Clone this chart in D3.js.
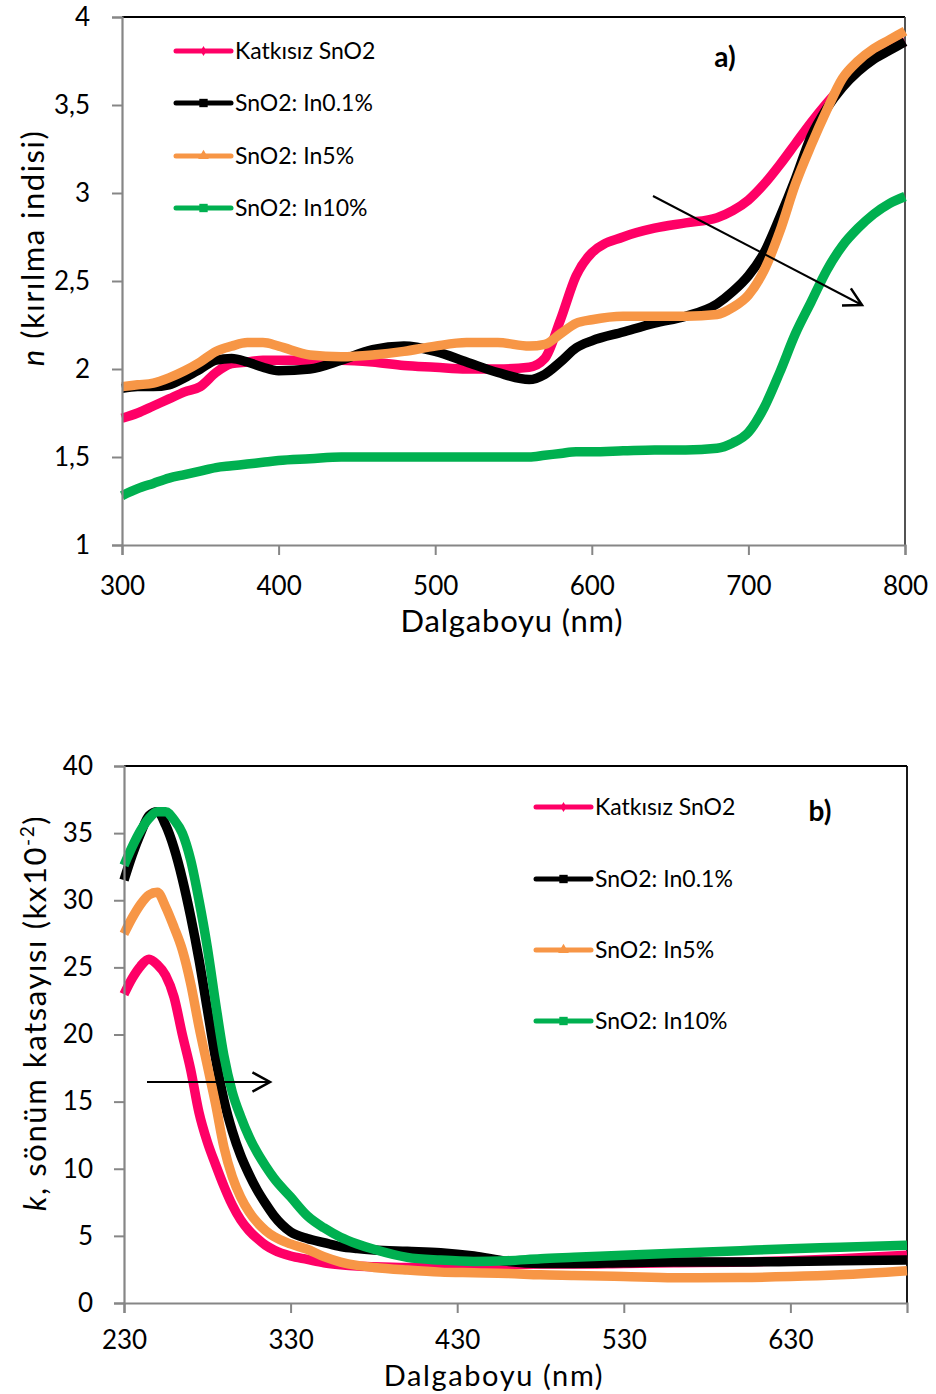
<!DOCTYPE html>
<html><head><meta charset="utf-8">
<script src="https://cdn.jsdelivr.net/npm/d3@7"></script>
<style>
html,body{margin:0;padding:0;background:#fff;}
svg text{font-family:Lato,"Open Sans",sans-serif;fill:#000;}
</style></head>
<body>
<svg id="c" width="936" height="1394"></svg>
<script>
// ---------- data: panel a (refractive index n) ----------
const seriesNames = ["Katkısız SnO2","SnO2: In0.1%","SnO2: In5%","SnO2: In10%"];
const seriesColors = ["#FF0066","#000000","#F79646","#00B050"];
const seriesMarkers = ["diamond","square","triangle","square"];

const wlA = [300,310,320,330,340,350,360,370,380,390,400,420,440,460,480,500,520,540,560,570,580,590,600,620,640,660,680,690,700,710,720,730,740,750,760,770,780,790,800];
const nPure  = [1.72,1.75,1.79,1.83,1.87,1.90,1.98,2.03,2.04,2.05,2.05,2.05,2.05,2.04,2.02,2.01,2.00,2.00,2.01,2.06,2.28,2.53,2.66,2.75,2.80,2.83,2.86,2.90,2.96,3.05,3.16,3.28,3.40,3.51,3.61,3.70,3.77,3.82,3.86];
const nIn01  = [1.89,1.90,1.90,1.91,1.95,2.00,2.05,2.06,2.04,2.01,1.99,2.00,2.05,2.11,2.13,2.10,2.04,1.98,1.94,1.97,2.04,2.12,2.16,2.21,2.26,2.30,2.37,2.44,2.53,2.66,2.86,3.08,3.32,3.48,3.60,3.69,3.76,3.81,3.86];
const nIn5   = [1.90,1.91,1.92,1.95,1.99,2.04,2.10,2.13,2.15,2.15,2.13,2.08,2.07,2.08,2.10,2.13,2.15,2.15,2.13,2.14,2.20,2.26,2.28,2.30,2.30,2.30,2.31,2.35,2.42,2.56,2.78,3.05,3.27,3.47,3.65,3.75,3.82,3.87,3.92];
const nIn10  = [1.28,1.32,1.35,1.38,1.40,1.42,1.44,1.45,1.46,1.47,1.48,1.49,1.50,1.50,1.50,1.50,1.50,1.50,1.50,1.51,1.52,1.53,1.53,1.535,1.54,1.54,1.55,1.58,1.64,1.78,1.98,2.20,2.38,2.56,2.70,2.80,2.88,2.94,2.98];
const yTicksA = [1,1.5,2,2.5,3,3.5,4];
const yTickLabelsA = ["1","1,5","2","2,5","3","3,5","4"];
const xTicksA = [300,400,500,600,700,800];

// ---------- data: panel b (extinction coefficient k x10^-2) ----------
const wlB = [230,235,240,245,250,255,260,265,270,275,280,285,290,295,300,305,310,315,320,330,340,350,360,370,380,400,420,440,460,480,500,530,560,600,630,660,700];
const kPure = [23.0,24.2,25.1,25.6,25.2,24.4,22.8,20.0,17.4,14.2,12.0,10.3,8.7,7.3,6.2,5.4,4.8,4.3,3.95,3.5,3.25,3.0,2.85,2.75,2.7,2.65,2.7,2.8,2.85,2.9,2.9,2.95,3.0,3.05,3.15,3.3,3.55];
const kIn01 = [31.5,33.4,35.0,36.3,36.6,35.6,33.9,31.6,28.8,25.6,21.9,18.2,15.1,12.8,11.0,9.6,8.4,7.4,6.5,5.3,4.8,4.5,4.2,4.05,3.95,3.85,3.75,3.5,3.1,2.95,2.95,3.0,3.05,3.05,3.1,3.15,3.2];
const kIn5  = [27.5,28.7,29.7,30.4,30.6,29.5,28.0,26.3,23.8,20.6,17.7,14.8,11.6,9.4,7.9,6.8,6.0,5.4,4.95,4.4,4.0,3.45,3.05,2.8,2.65,2.45,2.3,2.25,2.2,2.1,2.05,1.97,1.88,1.9,1.97,2.1,2.4];
const kIn10 = [32.6,34.0,35.2,36.1,36.6,36.6,36.0,35.0,33.0,30.0,26.5,22.3,18.4,15.7,13.9,12.4,11.2,10.2,9.3,7.9,6.5,5.6,4.9,4.4,4.0,3.4,3.2,3.1,3.15,3.3,3.4,3.55,3.7,3.9,4.05,4.15,4.3];
const yTicksB = [0,5,10,15,20,25,30,35,40];
const xTicksB = [230,330,430,530,630];

// ---------- drawing ----------
const svg = d3.select("#c");
const AXIS_GRAY = "#868686";

function drawPanel(cfg){
  const g = svg.append("g");
  const x = d3.scaleLinear().domain(cfg.xDomain).range([cfg.left, cfg.right]);
  const y = d3.scaleLinear().domain(cfg.yDomain).range([cfg.bottom, cfg.top]);

  // frame top + right
  g.append("line").attr("x1",cfg.left).attr("x2",cfg.right).attr("y1",cfg.top).attr("y2",cfg.top)
    .attr("stroke","#000").attr("stroke-width",1.8);
  g.append("line").attr("x1",cfg.right).attr("x2",cfg.right).attr("y1",cfg.top).attr("y2",cfg.bottom)
    .attr("stroke",cfg.rightColor).attr("stroke-width",1.8);

  // series
  const line = d3.line().x(d=>x(d[0])).y(d=>y(d[1])).curve(d3.curveMonotoneX);
  cfg.series.forEach((vals,i)=>{
    const pts = cfg.xs.map((w,j)=>[w,vals[j]]);
    g.append("path").attr("d",line(pts)).attr("fill","none")
      .attr("stroke",seriesColors[i]).attr("stroke-width",cfg.lw)
      .attr("stroke-linejoin","round").attr("stroke-linecap","butt");
  });

  // axes
  const ya = d3.axisLeft(y).tickValues(cfg.yTicks).tickSize(10).tickPadding(cfg.yPad)
    .tickFormat((d,i)=>cfg.yLabels[i]);
  const yg = g.append("g").attr("transform",`translate(${cfg.left},0)`).call(ya);
  const xa = d3.axisBottom(x).tickValues(cfg.xTicks).tickSize(10).tickPadding(cfg.xPad).tickFormat(d=>String(d));
  const xg = g.append("g").attr("transform",`translate(0,${cfg.bottom})`).call(xa);
  [yg,xg].forEach(a=>{
    a.select(".domain").attr("stroke",AXIS_GRAY).attr("stroke-width",2.2);
    a.selectAll(".tick line").attr("stroke",AXIS_GRAY).attr("stroke-width",2);
    a.selectAll(".tick text").attr("font-size",26).attr("font-family","Lato").attr("fill","#000");
  });
  // legend
  const lg = g.append("g");
  seriesNames.forEach((nm,i)=>{
    const yy = cfg.legY[i];
    lg.append("line").attr("x1",cfg.legX).attr("x2",cfg.legX+55).attr("y1",yy).attr("y2",yy)
      .attr("stroke",seriesColors[i]).attr("stroke-width",5).attr("stroke-linecap","round");
    const cx = cfg.legX+27.5;
    const m = seriesMarkers[i];
    let sym;
    if(m==="diamond") sym = d3.symbol(d3.symbolDiamond,30);
    else if(m==="square") sym = d3.symbol(d3.symbolSquare,70);
    else sym = d3.symbol(d3.symbolTriangle,50);
    lg.append("path").attr("d",sym()).attr("transform",`translate(${cx},${yy})`).attr("fill",seriesColors[i]);
    lg.append("text").attr("x",cfg.legX+59).attr("y",yy+8).attr("font-size",23).text(nm);
  });
  // panel label
  g.append("text").attr("x",cfg.tagX).attr("y",cfg.tagY).attr("font-family","Liberation Serif, Times New Roman, serif")
    .attr("font-weight","bold").attr("font-size",28).attr("text-anchor","middle").text(cfg.tag);
  // x title
  g.append("text").attr("x",cfg.xTitleX).attr("y",cfg.xTitleY).attr("text-anchor","middle")
    .attr("font-size",cfg.xTitleSize).attr("letter-spacing",cfg.xTitleLS)
    .text("Dalgaboyu (nm)");
  // arrow
  const ar = cfg.arrow;
  g.append("line").attr("x1",ar[0]).attr("y1",ar[1]).attr("x2",ar[2]).attr("y2",ar[3]).attr("stroke","#000").attr("stroke-width",2);
  const ang = Math.atan2(ar[3]-ar[1], ar[2]-ar[0]);
  const L = 20, a = 0.5;
  g.append("path").attr("d",
      `M${ar[2]-L*Math.cos(ang-a)},${ar[3]-L*Math.sin(ang-a)} L${ar[2]},${ar[3]} L${ar[2]-L*Math.cos(ang+a)},${ar[3]-L*Math.sin(ang+a)}`)
    .attr("fill","none").attr("stroke","#000").attr("stroke-width",2.5);
  return g;
}

drawPanel({
  xDomain:[300,800], yDomain:[1,4], left:122, right:905, top:17, bottom:545,
  xs:wlA, series:[nPure,nIn01,nIn5,nIn10], lw:9.5, rightColor:"#404040",
  yTicks:yTicksA, yLabels:yTickLabelsA, xTicks:xTicksA, yPad:22, xPad:22,
  legX:176, legY:[51,103,156,208], tag:"a)", tagX:725, tagY:67,
  xTitleX:512, xTitleY:632, xTitleSize:31, xTitleLS:0.8, arrow:[653,196,862,305]
});
svg.append("text").attr("transform","translate(44,248) rotate(-90)").attr("text-anchor","middle")
  .attr("font-size",31).attr("letter-spacing",1.5)
  .call(t=>{ t.append("tspan").attr("font-style","italic").text("n"); t.append("tspan").text(" (kırılma indisi)"); });

drawPanel({
  xDomain:[230,700], yDomain:[0,40], left:124, right:907, top:766, bottom:1303,
  xs:wlB, series:[kPure,kIn01,kIn5,kIn10], lw:9.5, rightColor:"#000",
  yTicks:yTicksB, yLabels:yTicksB.map(String), xTicks:xTicksB, yPad:21, xPad:18,
  legX:536, legY:[807,879,950,1021], tag:"b)", tagX:820, tagY:821,
  xTitleX:494, xTitleY:1386, xTitleSize:29, xTitleLS:1.6, arrow:[147,1082,270,1082]
});
svg.append("text").attr("transform","translate(46,1013) rotate(-90)").attr("text-anchor","middle")
  .attr("font-size",31).attr("letter-spacing",1.6)
  .call(t=>{
    t.append("tspan").attr("font-style","italic").text("k");
    t.append("tspan").text(", sönüm katsayısı (kx10");
    t.append("tspan").attr("font-size",19).attr("dy",-12).text("-2");
    t.append("tspan").attr("dy",12).text(")");
  });
</script>
</body></html>
